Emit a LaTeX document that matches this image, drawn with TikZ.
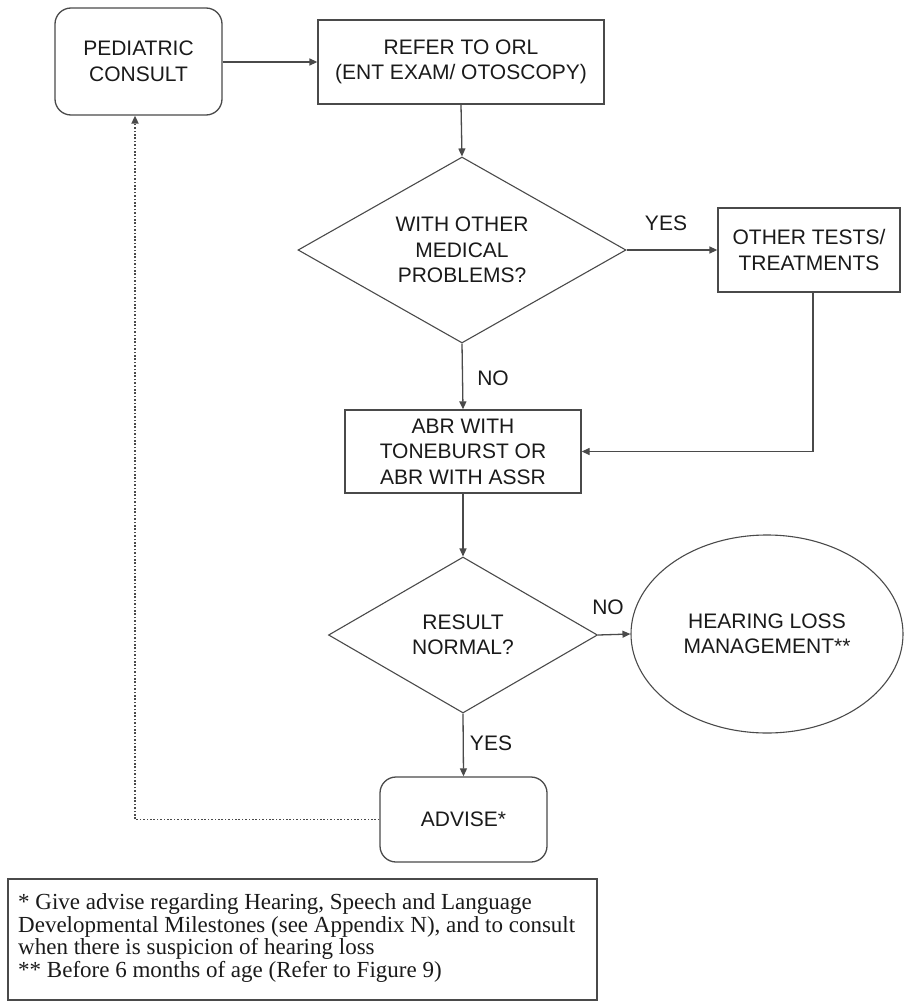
\documentclass[tikz,border=0pt]{standalone}
\usepackage{fontspec}
\setmainfont{Liberation Sans}
\newfontfamily\footfont{Liberation Serif}
\usetikzlibrary{shapes.geometric,arrows.meta}
\definecolor{linec}{HTML}{4A4A4A}
\definecolor{textc}{HTML}{1A1A1A}
\tikzset{
  base/.style={draw=linec, line width=1.3pt, text=textc, align=center,
    font=\fontsize{21}{25.5}\selectfont, inner sep=0pt},
  boxst/.style={base, rectangle},
  rboxst/.style={base, rectangle, rounded corners=16pt},
  diast/.style={base, diamond, line width=1.1pt},
  ellst/.style={base, ellipse, line width=1.1pt},
  lbl/.style={text=textc, font=\fontsize{21}{25.5}\selectfont, inner sep=0pt},
  footline/.style={anchor=base west, inner sep=0pt, text=textc,
    font=\footfont\fontsize{23}{23}\selectfont},
  arr/.style={draw=linec, line width=1.3pt, -{Triangle[length=8pt,width=7pt]}},
  dotarr/.style={draw=linec, line width=1.8pt, dash pattern=on 1.6pt off 1.8pt,
    -{Triangle[length=8pt,width=7pt]}}
}
\begin{document}
\begin{tikzpicture}[x=1pt,y=-1pt]
\path[use as bounding box] (0,0) rectangle (904,1001);

\node[rboxst, minimum width=167pt, minimum height=107pt] (ped) at (138.5,61.5) {PEDIATRIC\\CONSULT};
\node[boxst, minimum width=286pt, minimum height=84pt] (refer) at (461,62) {REFER TO ORL\\(ENT EXAM/ OTOSCOPY)};
\node[diast, aspect=1.76, minimum width=328pt, minimum height=186pt] (d1) at (462,250) {WITH OTHER\\MEDICAL\\PROBLEMS?};
\node[boxst, minimum width=182pt, minimum height=84pt] (other) at (809,250) {OTHER TESTS/\\TREATMENTS};
\node[boxst, minimum width=236pt, minimum height=83pt] (abr) at (463,451.5) {ABR WITH\\TONEBURST OR\\ABR WITH ASSR};
\node[diast, aspect=1.72, minimum width=269pt, minimum height=156pt] (d2) at (463,635) {RESULT\\NORMAL?};
\node[ellst, minimum width=272pt, minimum height=198pt] (hl) at (767,634) {HEARING LOSS\\MANAGEMENT**};
\node[rboxst, minimum width=167pt, minimum height=85pt] (adv) at (463.5,819.5) {ADVISE*};

\node[draw=linec, line width=1.3pt, rectangle, minimum width=589pt, minimum height=121pt, inner sep=0pt] (foot) at (302.5,939.5) {};
\node[footline] (f1) at (18,909) {* Give advise regarding Hearing, Speech and Language};
\node[footline] (f2) at (18,932) {Developmental Milestones (see Appendix N), and to consult};
\node[footline] (f3) at (18,954) {when there is suspicion of hearing loss};
\node[footline] (f4) at (18,977) {** Before 6 months of age (Refer to Figure 9)};

\node[lbl] (yes1) at (666,223) {YES};
\node[lbl] (no1) at (493,378) {NO};
\node[lbl] (no2) at (608,607) {NO};
\node[lbl] (yes2) at (491,743) {YES};

\draw[arr] (ped.east |- refer.west) -- (refer.west);
\draw[arr] (refer.south) -- (d1.north);
\draw[arr] (d1.east) -- (other.west);
\draw[arr] (d1.south) -- (abr.north);
\draw[arr] ([xshift=4pt]other.south) |- (abr.east);
\draw[arr] (abr.south) -- (d2.north);
\draw[arr] (d2.east) -- (hl.west);
\draw[arr] (d2.south) -- (adv.north);
\draw[dotarr] (adv.west) -| ([xshift=-3.5pt]ped.south);
\end{tikzpicture}
\end{document}
